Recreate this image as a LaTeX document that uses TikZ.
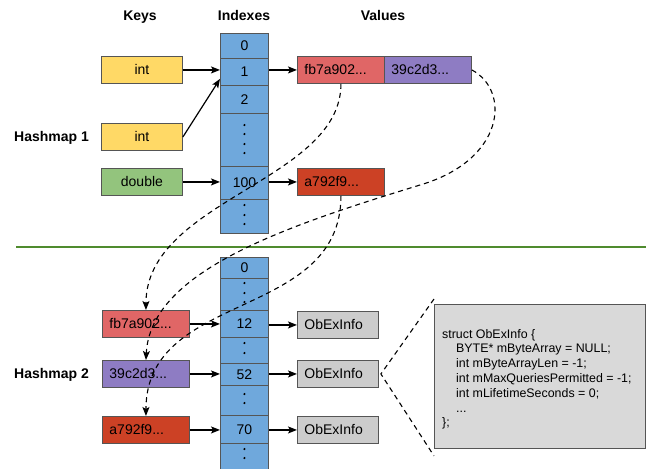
\documentclass[tikz,border=0pt]{standalone}
\usepackage{fontspec}
\setmainfont{Liberation Sans}
\usetikzlibrary{arrows.meta,calc}

\definecolor{keyyel}{HTML}{FFD966}
\definecolor{keygrn}{HTML}{93C47D}
\definecolor{valred}{HTML}{E06666}
\definecolor{valpur}{HTML}{8E7CC3}
\definecolor{valdark}{HTML}{CC4125}
\definecolor{idxblue}{HTML}{6FA8DC}
\definecolor{infogray}{HTML}{CCCCCC}
\definecolor{structgray}{HTML}{D9D9D9}
\definecolor{edgegray}{HTML}{555555}
\definecolor{divider}{HTML}{4F8B2E}

\tikzset{
  txt/.style={font=\fontsize{14}{16}\selectfont, text height=10pt, text depth=0pt, inner sep=0pt},
  hdr/.style={txt, font=\fontsize{14}{16}\selectfont\bfseries},
  keybox/.style={txt, draw=edgegray, line width=0.9pt, anchor=north west,
    minimum width=81pt, minimum height=27pt},
  valbox/.style={txt, draw=edgegray, line width=0.9pt, anchor=north west,
    inner xsep=7pt, text width=#1-14pt, align=left, minimum height=27pt},
  cell/.style={txt, draw=edgegray, line width=0.9pt, fill=idxblue, anchor=north west,
    minimum width=48pt, minimum height=#1},
  link/.style={line width=1.2pt, -{Stealth[length=9pt,width=7pt,inset=2pt]}},
  hop/.style={line width=1.1pt, dash pattern=on 5pt off 4pt,
    -{Stealth[length=9pt,width=7pt,inset=2pt]}},
  zoomline/.style={line width=1.1pt, dash pattern=on 5pt off 4pt},
  code/.style={font=\fontsize{12.4}{14.8}\selectfont, inner sep=0pt, anchor=base west},
}

\begin{document}
\begin{tikzpicture}[x=1pt,y=-1pt]
\useasboundingbox (0,0) rectangle (646,469);

% column headers
\node[hdr] (hkeys) at (140,15) {Keys};
\node[hdr] (hidx) at (244,15) {Indexes};
\node[hdr] (hvals) at (383,15) {Values};

% map labels
\node[hdr, anchor=west] (hm1) at (14,136) {Hashmap 1};
\node[hdr, anchor=west] (hm2) at (14,373) {Hashmap 2};

% ---------- first hashmap ----------
\node[keybox, fill=keyyel] (k1) at (101,56) {int};
\node[keybox, fill=keyyel] (k2) at (101,123) {int};
\node[keybox, fill=keygrn] (k3) at (101,168) {double};

\node[cell=25pt] (c0) at (220,33) {0};
\node[cell=27pt] (c1) at (220,58) {1};
\node[cell=28pt] (c2) at (220,85) {2};
\node[cell=53pt] (cd1) at (220,113) {};
\node[cell=33pt] (c100) at (220,166) {100};
\node[cell=34pt] (cd2) at (220,199) {};

\node[valbox=87pt, fill=valred] (v1) at (297,56) {fb7a902...};
\node[valbox=87pt, fill=valpur] (v2) at (384,56) {39c2d3...};
\node[valbox=87pt, fill=valdark] (v3) at (297,168) {a792f9...};

% vertical ellipses in the gap cells
\foreach \o in {12,21,31,40} \fill (cd1.north) ++(0,\o) circle (1.2pt);
\foreach \o in {6,16,25} \fill (cd2.north) ++(0,\o) circle (1.2pt);

\draw[link] (k1.east) -- (k1.east -| c1.west);
\draw[link] (k2.east) -- ([yshift=7pt]c1.south west);
\draw[link] (k3.east) -- (k3.east -| c100.west);
\draw[link] (v1.west -| c1.east) -- (v1.west);
\draw[link] (v3.west -| c100.east) -- (v3.west);

% divider
\coordinate (divl) at (16,247);
\coordinate (divr) at (646,247);
\draw[divider, line width=2pt] (divl) -- (divr);

% ---------- second hashmap ----------
\node[valbox=87pt, fill=valred] (b1) at (102,310) {fb7a902...};
\node[valbox=87pt, fill=valpur] (b2) at (102,360) {39c2d3...};
\node[valbox=87pt, fill=valdark] (b3) at (102,416) {a792f9...};

\node[cell=21pt] (d0) at (220,257) {0};
\node[cell=32pt] (dd1) at (220,278) {};
\node[cell=27pt] (d12) at (220,310) {12};
\node[cell=26pt] (dd2) at (220,337) {};
\node[cell=22pt] (d52) at (220,363) {52};
\node[cell=30pt] (dd3) at (220,385) {};
\node[cell=28pt] (d70) at (220,415) {70};
\node[cell=42pt] (dd4) at (220,443) {};

\foreach \o in {5,15,24} \fill (dd1.north) ++(0,\o) circle (1.2pt);
\foreach \o in {6,16} \fill (dd2.north) ++(0,\o) circle (1.2pt);
\foreach \o in {9,18} \fill (dd3.north) ++(0,\o) circle (1.2pt);
\foreach \o in {6,15} \fill (dd4.north) ++(0,\o) circle (1.2pt);

\node[valbox=81pt, fill=infogray] (o1) at (297,311) {ObExInfo};
\node[valbox=81pt, fill=infogray] (o2) at (297,360) {ObExInfo};
\node[valbox=81pt, fill=infogray] (o3) at (297,416) {ObExInfo};

\draw[link] (b1.east) -- (b1.east -| d12.west);
\draw[link] (b2.east) -- (b2.east -| d52.west);
\draw[link] (b3.east) -- (b3.east -| d70.west);
\draw[link] (o1.west -| d12.east) -- (o1.west);
\draw[link] (o2.west -| d52.east) -- (o2.west);
\draw[link] (o3.west -| d70.east) -- (o3.west);

% struct detail
\node[draw=edgegray, line width=0.9pt, fill=structgray, anchor=north west,
  minimum width=211pt, minimum height=144pt, inner sep=0pt] (sb) at (434,304) {};
\node[code] (s1) at (442,338) {struct ObExInfo \{};
\node[code] (s2) at (456,352.8) {BYTE* mByteArray = NULL;};
\node[code] (s3) at (456,367.6) {int mByteArrayLen = -1;};
\node[code] (s4) at (456,382.4) {int mMaxQueriesPermitted = -1;};
\node[code] (s5) at (456,397.2) {int mLifetimeSeconds = 0;};
\node[code] (s6) at (456,412) {...};
\node[code] (s7) at (442,426.8) {\};};

\coordinate (zv) at ([xshift=2pt]o2.east);
\draw[zoomline] ([yshift=5pt]sb.north west) -- (zv) -- ([yshift=-7pt]sb.south west);

% ---------- links between the maps ----------
\draw[hop] (v1.south) .. controls ($(v1.south)+(0,97)$) and ($(b1.north)+(0,-110)$) .. (b1.north);
\coordinate (sweep) at (420,185);
\draw[hop] (v2.east) .. controls ($(v2.east)+(39,21)$) and ($(sweep)+(85,-25)$) .. (sweep)
  .. controls ($(sweep)+(-130,40)$) and ($(b2.north)+(4.5,-90)$) .. (b2.north);
\draw[hop] (v3.south) .. controls ($(v3.south)+(0,125)$) and ($(b3.north)+(0,-126)$) .. (b3.north);
\end{tikzpicture}
\end{document}
